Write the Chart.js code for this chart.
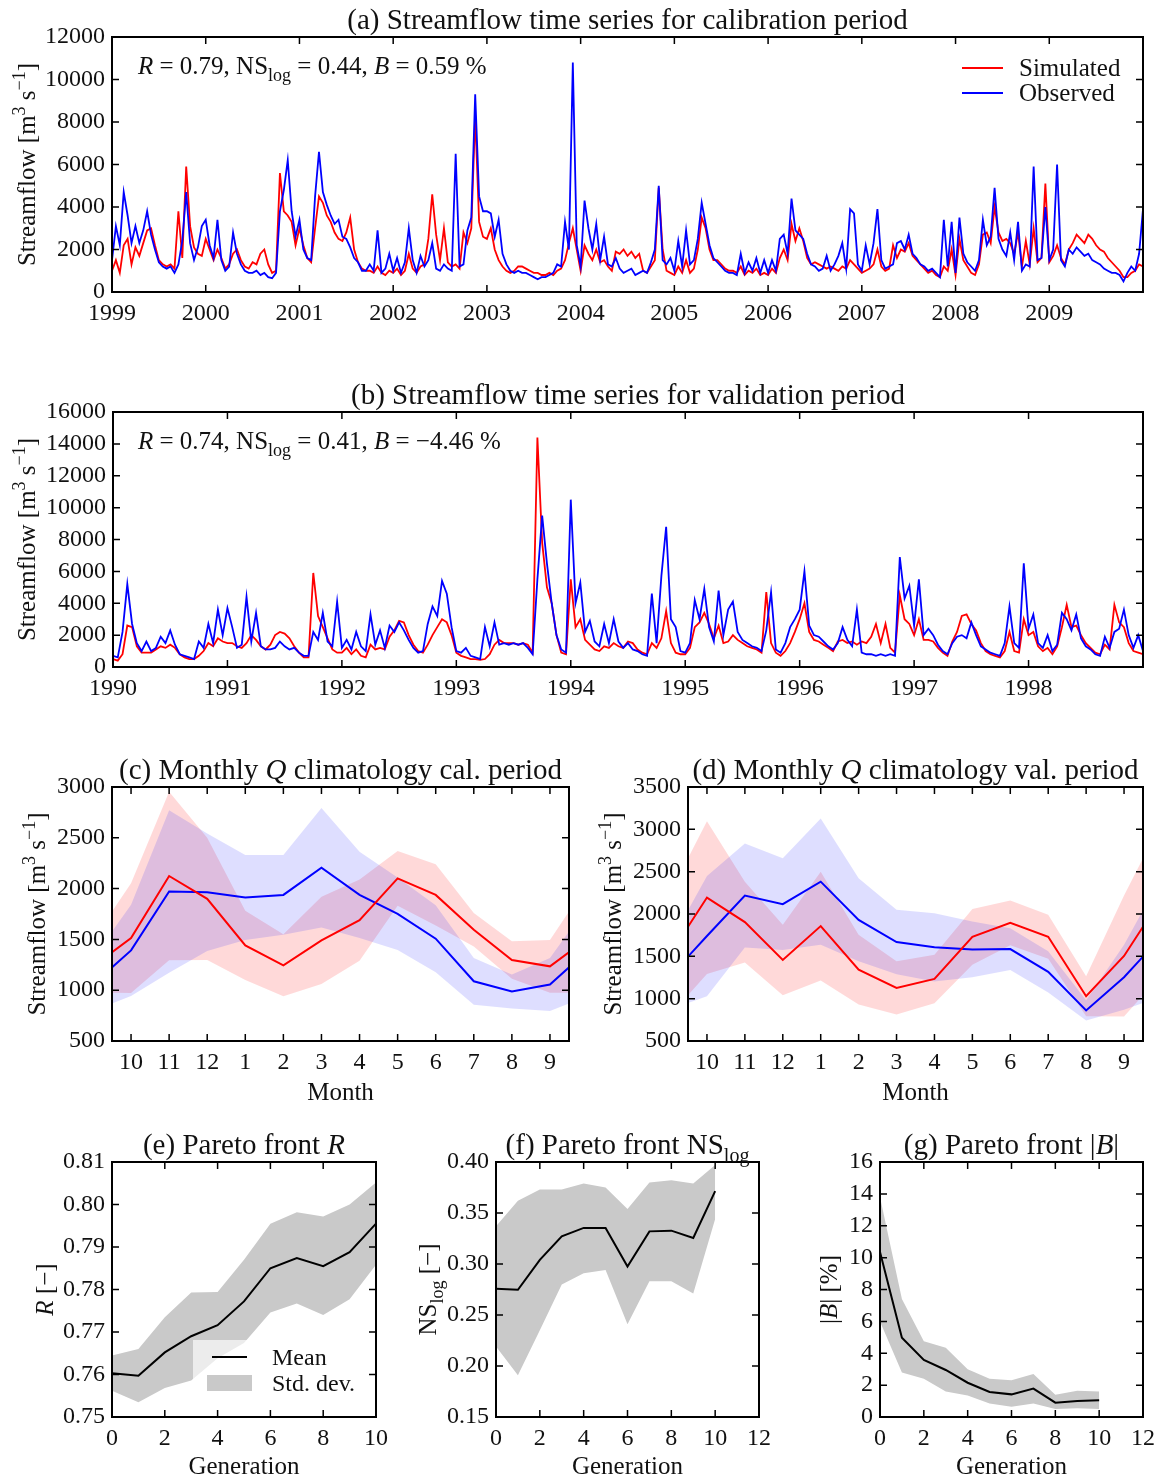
<!DOCTYPE html>
<html>
<head>
<meta charset="utf-8">
<script src="https://cdn.jsdelivr.net/npm/chart.js@4.4.1/dist/chart.umd.min.js"></script>
<style>
  body { margin: 0; background: #fff; }
  #page { position: relative; width: 1166px; height: 1479px; background: #fff; }
  canvas { position: absolute; }
</style>
</head>
<body>
<div id="page"></div>
<script>
// ---------- data ----------
// streamflow series, two values per month (1st and 16th), m3/s
const perYear = 24;
const calStart = 1999;
const valStart = 1990;
const calYears = [1999, 2000, 2001, 2002, 2003, 2004, 2005, 2006, 2007, 2008, 2009];
const valYears = [1990, 1991, 1992, 1993, 1994, 1995, 1996, 1997, 1998];

const calObs = [
  1500, 3100, 2200, 4700, 3600, 2300, 3100, 2300, 2900, 3800, 2700, 2000, 1400, 1200, 1100, 1200, 900, 1300, 2400, 4700, 2300, 1500, 2100, 3100, // 1999
  3400, 2200, 1600, 3400, 1500, 1000, 1200, 2800, 1800, 1300, 1000, 900, 900, 1000, 800, 900, 700, 650, 900, 3800, 4800, 6200, 3800, 2600, // 2000
  3400, 2000, 1600, 1500, 4500, 6600, 4700, 4100, 3600, 3200, 3400, 2600, 2500, 2100, 1600, 1400, 1000, 1000, 1300, 1000, 2900, 900, 1100, 1800, // 2001
  1000, 1600, 900, 1400, 3000, 1500, 900, 1700, 1200, 1500, 2300, 1100, 1000, 1300, 1100, 1000, 6500, 1200, 1300, 2900, 3500, 9300, 4500, 3800, // 2002
  3800, 3700, 2600, 3400, 1800, 1300, 1000, 900, 1000, 900, 900, 800, 700, 600, 700, 700, 800, 900, 1300, 1200, 3300, 2000, 10800, 2200, // 2003
  1200, 4300, 3000, 2000, 3200, 1500, 2600, 1300, 1200, 1600, 1100, 900, 1000, 1100, 800, 900, 1000, 900, 1400, 2000, 5000, 1500, 1300, 1600, // 2004
  1000, 2400, 1200, 2900, 1300, 1500, 2500, 4200, 3200, 2200, 1600, 1400, 1200, 1000, 900, 900, 800, 1800, 900, 1400, 1000, 1600, 900, 1500, // 2005
  900, 1500, 1000, 2500, 2700, 1800, 4400, 2900, 2700, 2500, 1800, 1300, 1200, 1000, 1100, 1700, 1000, 1300, 1700, 2300, 1100, 3900, 3700, 1300, // 2006
  1000, 2200, 1300, 2300, 3900, 1500, 1100, 1200, 1300, 2300, 2400, 2000, 2700, 1800, 1600, 1300, 1200, 1000, 1100, 900, 700, 3400, 1200, 3300, // 2007
  900, 3500, 1800, 1400, 1200, 1000, 1500, 3400, 2200, 2600, 4900, 2500, 2000, 1700, 2800, 1500, 3300, 1000, 1300, 1200, 5900, 1500, 1600, 4000, // 2008
  1500, 2000, 6000, 1500, 1200, 2000, 1800, 2100, 1900, 1700, 1800, 1500, 1400, 1300, 1100, 1000, 900, 900, 800, 500, 900, 1200, 1000, 1800, // 2009
  3900
];
const calSim = [
  1000, 1500, 900, 2200, 2500, 1300, 2100, 1700, 2300, 2900, 3000, 2200, 1500, 1300, 1200, 1300, 1100, 3800, 1600, 5900, 3100, 2100, 1800, 1700, // 1999
  2500, 2000, 1500, 2000, 1600, 1100, 1300, 1800, 2000, 1500, 1200, 1100, 1400, 1300, 1800, 2000, 1300, 900, 1000, 5600, 3800, 3600, 3300, 2200, // 2000
  3000, 2200, 1600, 1400, 3000, 4500, 4200, 3600, 3300, 2800, 2500, 2400, 2800, 3500, 2000, 1400, 1100, 1000, 1000, 900, 1200, 900, 800, 1000, // 2001
  900, 1100, 800, 1000, 1800, 1100, 900, 1200, 1300, 2500, 4600, 2700, 1500, 3000, 1400, 1200, 1300, 1100, 2800, 2300, 3000, 8300, 3300, 2600, // 2002
  2500, 3000, 2000, 1500, 1200, 1000, 900, 1000, 1200, 1200, 1100, 1000, 900, 900, 800, 800, 900, 800, 1000, 1100, 1500, 2300, 3000, 2000, // 2003
  1000, 2200, 1800, 1500, 2000, 1400, 1500, 1200, 1000, 1900, 1800, 2000, 1700, 1900, 1600, 1800, 1000, 900, 1200, 1500, 4900, 2000, 1000, 900, // 2004
  800, 1200, 900, 1500, 900, 1100, 2000, 3500, 3000, 2000, 1500, 1500, 1300, 1100, 1000, 1000, 900, 1200, 800, 1000, 900, 1100, 800, 900, // 2005
  800, 1100, 900, 1600, 2000, 1500, 3200, 2400, 3000, 2400, 1600, 1300, 1400, 1300, 1200, 1100, 1200, 1100, 1000, 1200, 1100, 1500, 1300, 1100, // 2006
  900, 1000, 1100, 1300, 2000, 1200, 1000, 1100, 2200, 1600, 2000, 1900, 2300, 1700, 1500, 1300, 1100, 900, 1000, 800, 700, 1200, 1000, 2000, // 2007
  800, 2500, 1500, 1200, 900, 800, 1300, 2700, 2800, 2300, 4000, 2800, 2400, 2500, 2300, 1800, 2800, 1200, 2400, 1300, 3000, 1400, 1600, 5100, // 2008
  1400, 1700, 2200, 1600, 1300, 2000, 2300, 2700, 2500, 2300, 2700, 2500, 2200, 2000, 1900, 1600, 1400, 1200, 1000, 700, 700, 900, 1000, 1300, // 2009
  1200
];
const valObs = [
  700, 600, 2200, 5200, 2700, 1500, 1000, 1600, 1000, 1200, 1900, 1500, 2300, 1400, 800, 700, 600, 500, 1600, 1200, 2700, 1500, 3600, 2000, // 1990
  3700, 2500, 1200, 1400, 4400, 1600, 3400, 1300, 1100, 1100, 1200, 1600, 1300, 1100, 1200, 900, 700, 700, 2200, 1700, 3400, 1600, 1300, 4100, // 1991
  1200, 1700, 1100, 2200, 1300, 1000, 3300, 1400, 2300, 1200, 2600, 2200, 2800, 2300, 1700, 1200, 900, 1000, 2700, 3800, 3200, 5400, 4600, 2500, // 1992
  1000, 900, 1200, 700, 600, 500, 2500, 1300, 2800, 1400, 1500, 1400, 1500, 1400, 1500, 1200, 800, 5500, 9500, 6500, 4000, 2000, 1100, 900, // 1993
  10500, 4000, 5300, 2200, 2900, 1600, 1300, 2700, 1500, 3000, 1600, 1200, 1500, 1100, 1000, 800, 700, 4600, 1500, 5700, 8800, 3000, 2500, 1000, // 1994
  900, 1500, 4200, 3000, 4900, 2500, 1600, 4800, 2000, 3600, 4100, 2200, 1700, 1500, 1300, 1200, 1000, 2300, 4700, 1100, 900, 1500, 2500, 3000, // 1995
  3600, 6000, 2600, 2000, 1900, 1600, 1300, 1100, 1500, 2500, 1700, 1300, 3600, 900, 800, 800, 700, 800, 700, 800, 700, 6900, 4300, 5100, // 1996
  2600, 5500, 2000, 2400, 2000, 1400, 1000, 800, 1500, 1900, 2000, 1800, 2800, 2000, 1300, 1100, 900, 800, 700, 1500, 3800, 1500, 1200, 6500, // 1997
  2400, 3300, 1500, 1200, 2000, 1000, 1400, 3400, 3000, 2300, 3300, 1800, 1300, 1100, 800, 700, 1900, 1200, 2200, 2400, 3600, 2000, 1200, 2000, // 1998
  1000
];
const valSim = [
  500, 400, 800, 2600, 2500, 1300, 900, 900, 900, 1100, 1300, 1200, 1400, 1200, 800, 600, 500, 500, 700, 1000, 1500, 1300, 1800, 1600, // 1990
  1500, 1500, 1300, 1200, 1500, 2000, 1700, 1300, 1100, 1400, 2000, 2200, 2100, 1800, 1300, 900, 600, 600, 5900, 3200, 2500, 1800, 1100, 900, // 1991
  900, 1200, 800, 1100, 700, 600, 1400, 1100, 1200, 1100, 1900, 2300, 2900, 2800, 2000, 1400, 1000, 900, 1400, 2000, 2500, 3000, 2800, 2000, // 1992
  900, 700, 600, 500, 500, 450, 500, 800, 1400, 1700, 1500, 1500, 1500, 1400, 1500, 1400, 900, 14400, 7800, 5000, 4000, 2000, 900, 800, // 1993
  5500, 2500, 3000, 1700, 1400, 1100, 1000, 1300, 1200, 1500, 1300, 1200, 1600, 1500, 1100, 900, 800, 1500, 1200, 1800, 3500, 1500, 900, 800, // 1994
  800, 1200, 2500, 2800, 3400, 2700, 1800, 2600, 1500, 1600, 2000, 1700, 1500, 1300, 1200, 1100, 900, 4700, 1500, 900, 700, 1000, 1500, 2200, // 1995
  3000, 4000, 2200, 1700, 1600, 1400, 1200, 1000, 1600, 1700, 1500, 1600, 1400, 1600, 1500, 1900, 2700, 1500, 2700, 1200, 900, 4500, 3000, 2700, // 1996
  2000, 3000, 1700, 1700, 1600, 1200, 900, 700, 1600, 2200, 3200, 3300, 2700, 2300, 1500, 1000, 800, 700, 600, 1000, 2200, 1000, 900, 3000, // 1997
  2000, 2200, 1300, 1000, 1200, 800, 1300, 2500, 3900, 2500, 2600, 2000, 1500, 1200, 900, 800, 1400, 1100, 3900, 2800, 2500, 1500, 1000, 900, // 1998
  800
];
const calTicksY = [0, 2000, 4000, 6000, 8000, 10000, 12000];
const valTicksY = [0, 2000, 4000, 6000, 8000, 10000, 12000, 14000, 16000];

// monthly climatology (hydrological year Oct..Sep)
const months = ['10', '11', '12', '1', '2', '3', '4', '5', '6', '7', '8', '9'];
const calSimMean = [1513, 2124, 1899, 1441, 1245, 1490, 1690, 2101, 1938, 1595, 1297, 1235];
const calSimHi = [2053, 2954, 2500, 1781, 1550, 1920, 2090, 2370, 2240, 1760, 1482, 1495];
const calSimLo = [973, 1294, 1298, 1101, 940, 1060, 1290, 1832, 1636, 1430, 1112, 975];
const calObsMean = [1392, 1971, 1964, 1912, 1938, 2206, 1938, 1752, 1507, 1088, 987, 1056];
const calObsHi = [1840, 2771, 2542, 2330, 2330, 2794, 2363, 2110, 1837, 1318, 1154, 1316];
const calObsLo = [944, 1171, 1386, 1494, 1546, 1618, 1513, 1395, 1177, 858, 820, 796];
const valSimMean = [2194, 1904, 1457, 1857, 1343, 1127, 1233, 1731, 1896, 1731, 1029, 1504];
const valSimHi = [3096, 2382, 1873, 2500, 1755, 1441, 1520, 2060, 2160, 1990, 1265, 2218];
const valSimLo = [1292, 1426, 1041, 1214, 931, 813, 946, 1402, 1632, 1472, 793, 790];
const valObsMean = [1740, 2218, 2116, 2382, 1931, 1669, 1606, 1582, 1586, 1316, 861, 1253];
const valObsHi = [2450, 2833, 2657, 3127, 2421, 2049, 2010, 1912, 1833, 1559, 981, 1637];
const valObsLo = [1030, 1603, 1575, 1637, 1441, 1289, 1202, 1252, 1339, 1073, 741, 869];
const calClimTicks = [500, 1000, 1500, 2000, 2500, 3000];
const valClimTicks = [500, 1000, 1500, 2000, 2500, 3000, 3500];

// Pareto front statistics per generation
const gens = [0, 1, 2, 3, 4, 5, 6, 7, 8, 9, 10];
const rMean = [0.7603, 0.7597, 0.7652, 0.7690, 0.7716, 0.7772, 0.7850, 0.7874, 0.7855, 0.7888, 0.7955];
const rHi = [0.7645, 0.7660, 0.7735, 0.7793, 0.7794, 0.7870, 0.7955, 0.7982, 0.7972, 0.8000, 0.8052];
const rLo = [0.7562, 0.7535, 0.7568, 0.7586, 0.7638, 0.7674, 0.7746, 0.7767, 0.7740, 0.7777, 0.7858];
const nsMean = [0.2757, 0.2747, 0.3040, 0.3272, 0.3354, 0.3354, 0.2976, 0.3320, 0.3327, 0.3255, 0.3715];
const nsHi = [0.337, 0.362, 0.373, 0.373, 0.379, 0.375, 0.354, 0.380, 0.382, 0.379, 0.397];
const nsLo = [0.219, 0.191, 0.235, 0.280, 0.291, 0.294, 0.241, 0.283, 0.283, 0.271, 0.344];
const bMean = [10.35, 4.98, 3.58, 2.95, 2.15, 1.57, 1.42, 1.78, 0.90, 1.00, 1.05];
const bHi = [13.8, 7.4, 4.75, 4.35, 3.0, 2.4, 2.3, 2.7, 1.4, 1.65, 1.6];
const bLo = [6.0, 2.8, 2.4, 1.6, 1.35, 0.85, 0.65, 0.85, 0.5, 0.55, 0.5];
const rTicks = [0.75, 0.76, 0.77, 0.78, 0.79, 0.80, 0.81];
const nsTicks = [0.15, 0.20, 0.25, 0.30, 0.35, 0.40];
const bTicks = [0, 2, 4, 6, 8, 10, 12, 14, 16];
const genTicksE = [0, 2, 4, 6, 8, 10];
const genTicksFG = [0, 2, 4, 6, 8, 10, 12];

// ---------- helpers ----------
const SERIF = '"Liberation Serif", "DejaVu Serif", serif';
const INK = '#111';
const RED = '#ff0000';
const BLUE = '#0000ff';
const TITLE_SIZE = 29;
const TEXT_SIZE = 25;
const TICK_SIZE = 24;
Chart.defaults.font.family = SERIF;
Chart.defaults.color = INK;

function segFont(s, size) {
  const sz = (s.sub || s.sup) ? Math.round(size * 0.7) : size;
  return (s.i ? 'italic ' : '') + sz + 'px ' + SERIF;
}
function richWidth(ctx, segs, size) {
  let w = 0;
  for (const s of segs) { ctx.font = segFont(s, size); w += ctx.measureText(s.t).width; }
  return w;
}
function drawRich(ctx, segs, x, y, size, align) {
  let cx = align === 'center' ? x - richWidth(ctx, segs, size) / 2 : x;
  ctx.textAlign = 'left';
  ctx.textBaseline = 'alphabetic';
  for (const s of segs) {
    ctx.font = segFont(s, size);
    const dy = s.sub ? size * 0.28 : (s.sup ? -size * 0.42 : 0);
    ctx.fillText(s.t, cx, y + dy);
    cx += ctx.measureText(s.t).width;
  }
}

const flowLabel = [{t: 'Streamflow [m'}, {t: '3', sup: 1}, {t: ' s'}, {t: '\u22121', sup: 1}, {t: ']'}];

// decoration plugin: frame, inward ticks, titles, labels, legends
function deco(cfg) {
  return {
    id: 'deco',
    afterDraw(chart) {
      const ctx = chart.ctx, a = chart.chartArea;
      const ox = cfg.box.x, oy = cfg.box.y;
      ctx.save();
      if (cfg.legend) cfg.legend(ctx, ox, oy);
      // ticks pointing inwards on all sides
      ctx.strokeStyle = '#000';
      ctx.lineWidth = 1.5;
      ctx.beginPath();
      const xs = chart.scales.x, ys = chart.scales.y, L = 7;
      xs.ticks.forEach(t => {
        const px = xs.getPixelForValue(t.value);
        ctx.moveTo(px, a.bottom); ctx.lineTo(px, a.bottom - L);
        ctx.moveTo(px, a.top); ctx.lineTo(px, a.top + L);
      });
      ys.ticks.forEach(t => {
        const py = ys.getPixelForValue(t.value);
        ctx.moveTo(a.left, py); ctx.lineTo(a.left + L, py);
        ctx.moveTo(a.right, py); ctx.lineTo(a.right - L, py);
      });
      ctx.stroke();
      ctx.lineWidth = 2;
      ctx.strokeRect(a.left, a.top, a.right - a.left, a.bottom - a.top);
      ctx.fillStyle = INK;
      drawRich(ctx, cfg.title, (a.left + a.right) / 2, a.top - 8, TITLE_SIZE, 'center');
      if (cfg.note) drawRich(ctx, cfg.note, cfg.noteX - ox, cfg.noteY - oy, TEXT_SIZE, 'left');
      if (cfg.xlabel) drawRich(ctx, cfg.xlabel, (a.left + a.right) / 2, cfg.xlabelY - oy, TEXT_SIZE, 'center');
      if (cfg.ylabel) {
        ctx.save();
        ctx.translate(cfg.ylabelX - ox, (a.top + a.bottom) / 2);
        ctx.rotate(-Math.PI / 2);
        drawRich(ctx, cfg.ylabel, 0, 9, TEXT_SIZE, 'center');
        ctx.restore();
      }
      ctx.restore();
    }
  };
}

function makeCanvas(id, box) {
  const c = document.createElement('canvas');
  c.id = id;
  c.width = box.w; c.height = box.h;
  c.style.left = box.x + 'px'; c.style.top = box.y + 'px';
  c.style.width = box.w + 'px'; c.style.height = box.h + 'px';
  document.getElementById('page').appendChild(c);
  return c.getContext('2d');
}

function axis(min, max, tickVals, fmt) {
  return {
    type: 'linear', min: min, max: max,
    afterBuildTicks: s => { s.ticks = tickVals.map(v => ({value: v})); },
    grid: {display: false, drawTicks: false},
    border: {display: false},
    ticks: {callback: fmt, font: {size: TICK_SIZE, family: SERIF}, color: INK, padding: 7, maxRotation: 0, autoSkip: false}
  };
}

function makePanel(id, box, plot, datasets, xAx, yAx, cfg) {
  const ctx = makeCanvas(id, box);
  cfg.box = box;
  xAx.afterFit = s => { s.height = box.y + box.h - plot.b; };
  yAx.afterFit = s => { s.width = plot.l - box.x; };
  return new Chart(ctx, {
    type: 'line',
    data: {datasets: datasets},
    options: {
      responsive: false, animation: false, devicePixelRatio: 1, events: [],
      layout: {padding: {left: 0, top: plot.t - box.y, right: box.x + box.w - plot.r, bottom: 0}},
      scales: {x: xAx, y: yAx},
      plugins: {legend: {display: false}, tooltip: {enabled: false}}
    },
    plugins: [deco(cfg)]
  });
}

const seriesPts = (vals, start) => vals.map((v, i) => ({x: start + i / perYear, y: v}));
// month index 0..11, wrapped one month each side so the curve runs to the frame
const wrapPts = vals => [vals[11], ...vals, vals[0]].map((v, i) => ({x: i - 1, y: v}));
const genPts = vals => vals.map((v, i) => ({x: gens[i], y: v}));
const lineDs = (data, color, width, order) => ({data: data, borderColor: color, borderWidth: width, pointRadius: 0, fill: false, order: order, tension: 0});
const bandDs = (data, fill, color, order) => ({data: data, borderWidth: 0, borderColor: 'rgba(0,0,0,0)', pointRadius: 0, fill: fill, backgroundColor: color, order: order, tension: 0});

function flowLegend(ctx, ox, oy) {
  ctx.lineWidth = 2;
  [[RED, 'Simulated', 68], [BLUE, 'Observed', 93]].forEach(([c, t, y]) => {
    ctx.strokeStyle = c;
    ctx.beginPath(); ctx.moveTo(962 - ox, y - oy); ctx.lineTo(1003 - ox, y - oy); ctx.stroke();
    ctx.fillStyle = INK;
    drawRich(ctx, [{t: t}], 1019 - ox, y - oy + 8, TEXT_SIZE, 'left');
  });
}

// ---------- (a) calibration series ----------
const boxA = {x: 0, y: 0, w: 1166, h: 340};
makePanel('panelA', boxA, {l: 112, t: 37, r: 1143, b: 292},
  [lineDs(seriesPts(calObs, calStart), BLUE, 1.8, 0), lineDs(seriesPts(calSim, calStart), RED, 1.8, 1)],
  axis(1999, 2010, calYears, v => String(v)),
  axis(0, 12000, calTicksY, v => String(v)),
  {title: [{t: '(a) Streamflow time series for calibration period'}], ylabel: flowLabel, ylabelX: 26,
   note: [{t: 'R', i: 1}, {t: ' = 0.79, NS'}, {t: 'log', sub: 1}, {t: ' = 0.44, '}, {t: 'B', i: 1}, {t: ' = 0.59 %'}],
   noteX: 138, noteY: 74, legend: flowLegend});

// ---------- (b) validation series ----------
const boxB = {x: 0, y: 345, w: 1166, h: 370};
makePanel('panelB', boxB, {l: 113, t: 412, r: 1143, b: 667},
  [lineDs(seriesPts(valObs, valStart), BLUE, 1.8, 0), lineDs(seriesPts(valSim, valStart), RED, 1.8, 1)],
  axis(1990, 1999, valYears, v => String(v)),
  axis(0, 16000, valTicksY, v => String(v)),
  {title: [{t: '(b) Streamflow time series for validation period'}], ylabel: flowLabel, ylabelX: 26,
   note: [{t: 'R', i: 1}, {t: ' = 0.74, NS'}, {t: 'log', sub: 1}, {t: ' = 0.41, '}, {t: 'B', i: 1}, {t: ' = \u22124.46 %'}],
   noteX: 138, noteY: 449});

// ---------- (c), (d) monthly climatology ----------
function climPanel(id, box, plot, sm, shi, slo, om, ohi, olo, yMax, yTicks, title, ylx) {
  makePanel(id, box, plot,
    [bandDs(wrapPts(shi), '+1', 'rgba(255,0,0,0.15)', 3), bandDs(wrapPts(slo), false, 'rgba(0,0,0,0)', 3),
     bandDs(wrapPts(ohi), '+1', 'rgba(0,0,255,0.13)', 2), bandDs(wrapPts(olo), false, 'rgba(0,0,0,0)', 2),
     lineDs(wrapPts(sm), RED, 2, 0), lineDs(wrapPts(om), BLUE, 2, 1)],
    axis(-0.5, 11.5, months.map((m, i) => i), v => months[v]),
    axis(500, yMax, yTicks, v => String(v)),
    {title: title, ylabel: flowLabel, ylabelX: ylx, xlabel: [{t: 'Month'}], xlabelY: 1100});
}
climPanel('panelC', {x: 0, y: 720, w: 583, h: 395}, {l: 112, t: 787, r: 569, b: 1041},
  calSimMean, calSimHi, calSimLo, calObsMean, calObsHi, calObsLo, 3000, calClimTicks,
  [{t: '(c) Monthly '}, {t: 'Q', i: 1}, {t: ' climatology cal. period'}], 36);
climPanel('panelD', {x: 583, y: 720, w: 583, h: 395}, {l: 688, t: 787, r: 1143, b: 1041},
  valSimMean, valSimHi, valSimLo, valObsMean, valObsHi, valObsLo, 3500, valClimTicks,
  [{t: '(d) Monthly '}, {t: 'Q', i: 1}, {t: ' climatology val. period'}], 612);

// ---------- (e), (f), (g) Pareto fronts ----------
function paretoPanel(id, box, plot, mean, hi, lo, xMax, xTicks, yMin, yMax, yTicks, yFmt, title, ylabel, ylx, legend) {
  makePanel(id, box, plot,
    [bandDs(genPts(hi), '+1', '#c9c9c9', 1), bandDs(genPts(lo), false, 'rgba(0,0,0,0)', 1),
     lineDs(genPts(mean), '#000', 2, 0)],
    axis(0, xMax, xTicks, v => String(v)),
    axis(yMin, yMax, yTicks, yFmt),
    {title: title, ylabel: ylabel, ylabelX: ylx, xlabel: [{t: 'Generation'}], xlabelY: 1474, legend: legend});
}
function paretoLegend(ctx, ox, oy) {
  ctx.fillStyle = 'rgba(255,255,255,0.65)';
  ctx.fillRect(193 - ox, 1340 - oy, 163, 75);
  ctx.strokeStyle = '#000';
  ctx.lineWidth = 2;
  ctx.beginPath(); ctx.moveTo(212 - ox, 1357 - oy); ctx.lineTo(247 - ox, 1357 - oy); ctx.stroke();
  ctx.fillStyle = '#c9c9c9';
  ctx.fillRect(207 - ox, 1375 - oy, 45, 16);
  ctx.fillStyle = INK;
  drawRich(ctx, [{t: 'Mean'}], 272 - ox, 1365 - oy, 24, 'left');
  drawRich(ctx, [{t: 'Std. dev.'}], 272 - ox, 1391 - oy, 24, 'left');
}
paretoPanel('panelE', {x: 0, y: 1115, w: 395, h: 364}, {l: 112, t: 1162, r: 378, b: 1417},
  rMean, rHi, rLo, 10, genTicksE, 0.75, 0.81, rTicks, v => v.toFixed(2),
  [{t: '(e) Pareto front '}, {t: 'R', i: 1}], [{t: 'R', i: 1}, {t: ' [\u2212]'}], 44, paretoLegend);
paretoPanel('panelF', {x: 395, y: 1115, w: 390, h: 364}, {l: 496, t: 1162, r: 759, b: 1417},
  nsMean, nsHi, nsLo, 12, genTicksFG, 0.15, 0.40, nsTicks, v => v.toFixed(2),
  [{t: '(f) Pareto front NS'}, {t: 'log', sub: 1}], [{t: 'NS'}, {t: 'log', sub: 1}, {t: ' [\u2212]'}], 427);
paretoPanel('panelG', {x: 785, y: 1115, w: 381, h: 364}, {l: 880, t: 1162, r: 1143, b: 1417},
  bMean, bHi, bLo, 12, genTicksFG, 0, 16, bTicks, v => String(v),
  [{t: '(g) Pareto front |'}, {t: 'B', i: 1}, {t: '|'}], [{t: '|'}, {t: 'B', i: 1}, {t: '| [%]'}], 828);
</script>
</body>
</html>
